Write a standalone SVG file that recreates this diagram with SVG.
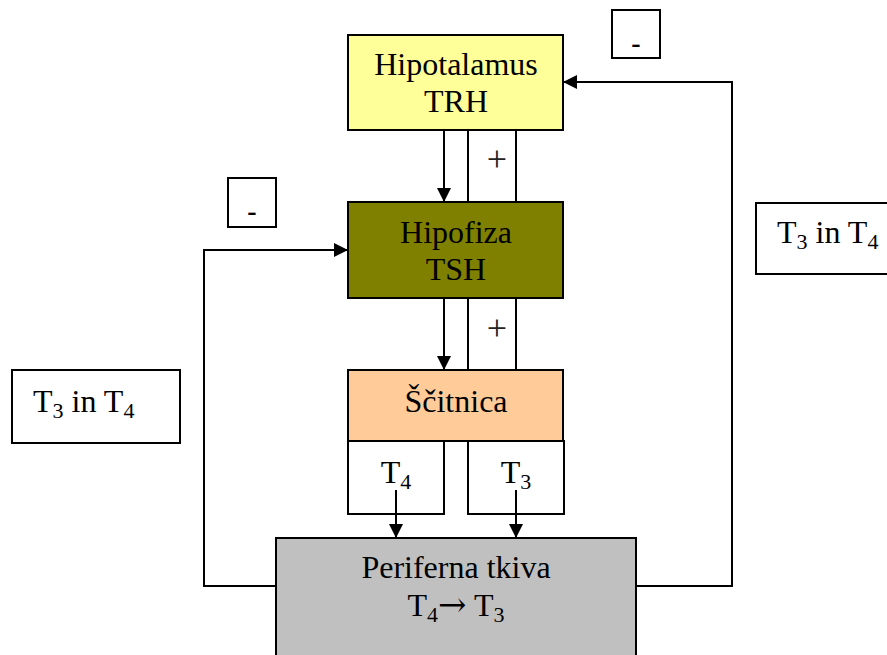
<svg xmlns="http://www.w3.org/2000/svg" width="887" height="655" viewBox="0 0 887 655">
<defs>
<marker id="ah" markerWidth="14" markerHeight="14" refX="14" refY="7" orient="auto" markerUnits="userSpaceOnUse">
<path d="M0,0 L14,7 L0,14 Z" fill="#000"/>
</marker>
<style>
.box{stroke:#000;stroke-width:2}
.t{font-family:"Liberation Serif","Times New Roman",serif;font-size:32px;fill:#000;text-anchor:middle}
.s{font-size:22px}
.p{font-size:36px;fill:#222}
.m{font-size:28px;font-weight:bold}
.c{fill:none;stroke:#000;stroke-width:2}
</style>
</defs>
<rect width="887" height="655" fill="#fff"/>
<g id="hipotalamus">
<rect class="box" x="348" y="35" width="215" height="95" fill="#FFFF99"/>
<text class="t" x="456" y="75">Hipotalamus</text>
<text class="t" x="456" y="112">TRH</text>
</g>
<g id="plus1">
<rect class="box" x="468" y="130" width="48" height="72" fill="#fff"/>
<text class="t p" x="497" y="171">+</text>
</g>
<g id="hipofiza">
<rect class="box" x="348" y="202" width="215" height="96" fill="#808000"/>
<text class="t" x="456" y="243">Hipofiza</text>
<text class="t" x="456" y="280">TSH</text>
</g>
<g id="plus2">
<rect class="box" x="468" y="298" width="48" height="72" fill="#fff"/>
<text class="t p" x="497" y="340">+</text>
</g>
<g id="scitnica">
<rect class="box" x="348" y="370" width="215" height="71" fill="#FFCC99"/>
<text class="t" x="456" y="412">Ščitnica</text>
</g>
<g id="t4box">
<rect class="box" x="348" y="441" width="96" height="73" fill="#fff"/>
<text class="t" x="396" y="483">T<tspan class="s" dy="6">4</tspan></text>
</g>
<g id="t3box">
<rect class="box" x="468" y="441" width="96" height="73" fill="#fff"/>
<text class="t" x="516" y="483">T<tspan class="s" dy="6">3</tspan></text>
</g>
<g id="periferna">
<rect class="box" x="276" y="538" width="360" height="130" fill="#C0C0C0"/>
<text class="t" x="456" y="578">Periferna tkiva</text>
<text class="t" x="456" y="616">T<tspan class="s" dy="6">4</tspan><tspan dy="-6" style="font-family:'DejaVu Serif',serif;font-size:34px">→</tspan><tspan> T</tspan><tspan class="s" dy="6">3</tspan></text>
</g>
<g id="minus-left">
<rect class="box" x="228" y="178" width="48" height="49" fill="#fff"/>
<text class="t m" x="252" y="220">-</text>
</g>
<g id="minus-right">
<rect class="box" x="612" y="10" width="48" height="48" fill="#fff"/>
<text class="t m" x="636" y="52">-</text>
</g>
<g id="label-left">
<rect class="box" x="12" y="370" width="168" height="73" fill="#fff"/>
<text class="t" x="33" y="412" style="text-anchor:start">T<tspan class="s" dy="6">3</tspan><tspan dy="-6"> in T</tspan><tspan class="s" dy="6">4</tspan></text>
</g>
<g id="label-right">
<rect class="box" x="756" y="203" width="140" height="71" fill="#fff"/>
<text class="t" x="777" y="243" style="text-anchor:start">T<tspan class="s" dy="6">3</tspan><tspan dy="-6"> in T</tspan><tspan class="s" dy="6">4</tspan></text>
</g>
<g id="connectors">
<line class="c" x1="444" y1="130" x2="444" y2="202" marker-end="url(#ah)"/>
<line class="c" x1="444" y1="298" x2="444" y2="370" marker-end="url(#ah)"/>
<line class="c" x1="396" y1="490" x2="396" y2="538" marker-end="url(#ah)"/>
<line class="c" x1="516" y1="490" x2="516" y2="538" marker-end="url(#ah)"/>
<polyline class="c" points="276,586 204,586 204,250 348,250" marker-end="url(#ah)"/>
<polyline class="c" points="636,586 732,586 732,82 563,82" marker-end="url(#ah)"/>
</g>
</svg>
